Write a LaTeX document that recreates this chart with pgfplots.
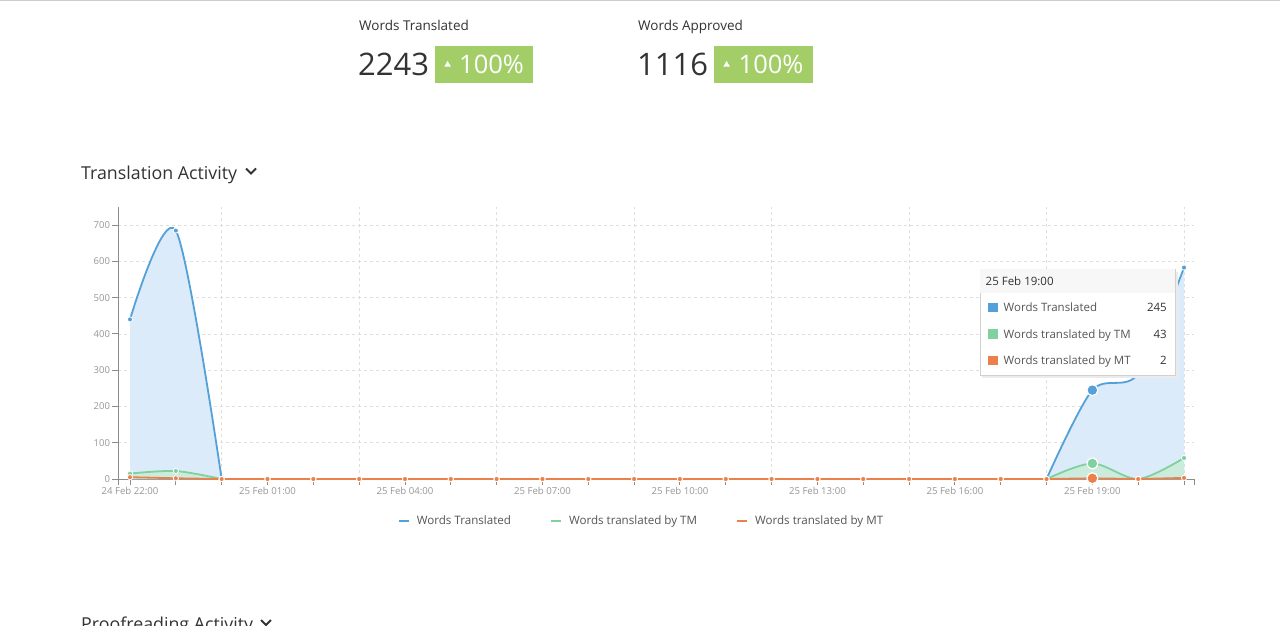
\documentclass[border=0pt]{standalone}
\usepackage{fontspec}
\setmainfont{Open Sans}
\usepackage{pgfplots}
\usepackage{pgfplotstable}
\pgfplotsset{compat=1.18}

\definecolor{wtblue}{RGB}{84,161,217}
\definecolor{wtfill}{RGB}{219,235,249}
\definecolor{tmgreen}{RGB}{128,208,160}
\definecolor{tmfill}{RGB}{200,236,214}
\definecolor{mtorange}{RGB}{235,128,74}
\definecolor{axgray}{RGB}{140,140,140}
\definecolor{gridgray}{RGB}{222,222,222}
\definecolor{ticktext}{RGB}{150,150,150}
\definecolor{legtext}{RGB}{85,85,85}
\definecolor{darktext}{RGB}{51,51,51}
\definecolor{okgreen}{RGB}{163,206,103}

\newcommand\fs[1]{\fontsize{#1}{#1}\selectfont}

% hourly values, 24 Feb 22:00 (h=0) to 25 Feb 21:00 (h=23)
\pgfplotstableread{
h  wt  tm  mt
0  440 15  5
1  685 22  2
2  0   0   0
3  0   0   0
4  0   0   0
5  0   0   0
6  0   0   0
7  0   0   0
8  0   0   0
9  0   0   0
10 0   0   0
11 0   0   0
12 0   0   0
13 0   0   0
14 0   0   0
15 0   0   0
16 0   0   0
17 0   0   0
18 0   0   0
19 0   0   0
20 0   0   0
21 245 43  2
22 290 0   0
23 583 58  3
}\activity

\begin{document}
\begin{tikzpicture}
\path[fill=white, use as bounding box] (0pt,0pt) rectangle (1280pt,-626pt);

\begin{scope}[x=1pt, y=-1pt]
  \fill[black!20] (0,0) rectangle (1280,1.5);
  % header figures
  \node[anchor=base west, inner sep=0pt, font=\fs{13.5}, text=darktext] at (359,30.5) {Words Translated};
  \node[anchor=base west, inner sep=0pt, font=\fs{31}, text=darktext] at (358,76) {2243};
  \fill[okgreen] (435,46) rectangle (533,83.5);
  \fill[white] (444.3,66.7) -- (451,66.7) -- (447.6,61) -- cycle;
  \node[anchor=base west, inner sep=0pt, font=\fs{25.5}, text=white] at (459,74) {100\%};

  \node[anchor=base west, inner sep=0pt, font=\fs{13.5}, text=darktext] at (638,30.5) {Words Approved};
  \node[anchor=base west, inner sep=0pt, font=\fs{31}, text=darktext] at (637,76) {1116};
  \fill[okgreen] (714,46) rectangle (812.5,83.5);
  \fill[white] (723.3,66.7) -- (730,66.7) -- (726.6,61) -- cycle;
  \node[anchor=base west, inner sep=0pt, font=\fs{25.5}, text=white] at (738.5,74) {100\%};

  % section titles
  \node[anchor=base west, inner sep=0pt, font=\fs{17.8}, text=darktext] at (81,179) {Translation Activity};
  \draw[darktext, line width=2pt] (246,168.5) -- (251,173.5) -- (256,168.5);
  \node[anchor=base west, inner sep=0pt, font=\fs{17.8}, text=darktext] at (81,630) {Proofreading Activity};
  \draw[darktext, line width=2pt] (261,620) -- (266,625) -- (271,620);
\end{scope}

\begin{axis}[
  at={(118pt,-479pt)}, anchor=south west,
  scale only axis, width=1076pt, height=272pt,
  xmin=-0.2619, xmax=23.218, ymin=0, ymax=750,
  clip=false,
  /pgf/number format/assume math mode=true,
  axis lines=left, axis line style={-, axgray, line width=1pt},
  tick align=outside, major tick length=6pt,
  tick style={axgray, line width=0.9pt},
  xtick={-0.2619,0,1,2,3,4,5,6,7,8,9,10,11,12,13,14,15,16,17,18,19,20,21,22,23,23.218},
  xticklabels={{},24 Feb 22:00,{},{},25 Feb 01:00,{},{},25 Feb 04:00,{},{},25 Feb 07:00,{},{},25 Feb 10:00,{},{},25 Feb 13:00,{},{},25 Feb 16:00,{},{},25 Feb 19:00,{},{},{}},
  extra x ticks={2,5,8,11,14,17,20,23},
  extra x tick labels={},
  extra x tick style={xmajorgrids=true, major tick length=0pt},
  ytick={0,100,200,300,400,500,600,700},
  ymajorgrids=true,
  grid style={gridgray, dashed, line width=0.8pt},
  xticklabel style={font=\fs{9.6}, text=ticktext, yshift=1pt},
  yticklabel style={font=\fs{9.5}, text=ticktext, xshift=1.5pt},
  legend columns=3,
  legend image code/.code={\draw[#1] (0pt,0pt) -- (10pt,0pt);},
  legend style={at={(0.4856,-0.1544)}, anchor=center, draw=none, fill=none,
    font=\fs{11.6}, text=legtext,
    nodes={inner xsep=0pt},
    /tikz/every even column/.append style={column sep=39pt},
    /tikz/every odd column/.append style={column sep=7pt}},
]
\addlegendimage{wtblue, line width=2pt}
\addlegendentry{Words Translated}
\addlegendimage{tmgreen, line width=2pt}
\addlegendentry{Words translated by TM}
\addlegendimage{mtorange, line width=2pt}
\addlegendentry{Words translated by MT}

% Words Translated
\addplot[draw=none, fill=wtfill, smooth, restrict x to domain=0:2, forget plot] table[x=h, y=wt] {\activity} \closedcycle;
\addplot[draw=none, fill=wtfill, smooth, restrict x to domain=20:23, forget plot] table[x=h, y=wt] {\activity} \closedcycle;
\addplot[wtblue, line width=1.8pt, smooth, restrict x to domain=0:2, forget plot] table[x=h, y=wt] {\activity};
\addplot[wtblue, line width=1.8pt, restrict x to domain=2:20, forget plot] table[x=h, y=wt] {\activity};
\addplot[wtblue, line width=1.8pt, smooth, restrict x to domain=20:23, forget plot] table[x=h, y=wt] {\activity};
\addplot[only marks, mark=*, mark size=2.6pt, mark options={fill=wtblue, draw=white, line width=0.8pt}, forget plot] table[x=h, y=wt] {\activity};

% Words translated by TM
\addplot[draw=none, fill=tmfill, fill opacity=0.8, smooth, restrict x to domain=0:2, forget plot] table[x=h, y=tm] {\activity} \closedcycle;
\addplot[draw=none, fill=tmfill, fill opacity=0.8, smooth, restrict x to domain=20:23, forget plot] table[x=h, y=tm] {\activity} \closedcycle;
\addplot[tmgreen, line width=1.8pt, smooth, restrict x to domain=0:2, forget plot] table[x=h, y=tm] {\activity};
\addplot[tmgreen, line width=1.8pt, restrict x to domain=2:20, forget plot] table[x=h, y=tm] {\activity};
\addplot[tmgreen, line width=1.8pt, smooth, restrict x to domain=20:23, forget plot] table[x=h, y=tm] {\activity};
\addplot[only marks, mark=*, mark size=2.6pt, mark options={fill=tmgreen, draw=white, line width=0.8pt}, forget plot] table[x=h, y=tm] {\activity};

% Words translated by MT
\addplot[mtorange, line width=1.8pt, forget plot] table[x=h, y=mt] {\activity};
\addplot[only marks, mark=*, mark size=2.6pt, mark options={fill=mtorange, draw=white, line width=0.8pt}, forget plot] table[x=h, y=mt] {\activity};

% hovered point, 25 Feb 19:00
\addplot[only marks, mark=*, mark size=5.5pt, mark options={fill=wtblue, draw=white, line width=1.2pt}, forget plot] coordinates {(21,245)};
\addplot[only marks, mark=*, mark size=5.5pt, mark options={fill=tmgreen, draw=white, line width=1.2pt}, forget plot] coordinates {(21,43)};
\addplot[only marks, mark=*, mark size=5.5pt, mark options={fill=mtorange, draw=white, line width=1.2pt}, forget plot] coordinates {(21,2)};
\end{axis}

% tooltip
\begin{scope}[x=1pt, y=-1pt]
  \fill[black!8] (982,271.5) rectangle (1177.5,377.5);
  \filldraw[fill=white, draw=black!18, line width=0.8pt] (980,269) rectangle (1175,375);
  \fill[black!3] (980.4,269.4) rectangle (1174.6,293);
  \node[anchor=base west, inner sep=0pt, font=\fs{11.5}, text=darktext] at (985.5,285.5) {25 Feb 19:00};
  \fill[wtblue] (988,302.5) rectangle (997.5,312);
  \node[anchor=base west, inner sep=0pt, font=\fs{11.5}, text=legtext] at (1003.5,311.5) {Words Translated};
  \node[anchor=base east, inner sep=0pt, font=\fs{11.5}, text=darktext] at (1167,311.5) {245};
  \fill[tmgreen] (988,329) rectangle (997.5,338.5);
  \node[anchor=base west, inner sep=0pt, font=\fs{11.5}, text=legtext] at (1003.5,338) {Words translated by TM};
  \node[anchor=base east, inner sep=0pt, font=\fs{11.5}, text=darktext] at (1167,338) {43};
  \fill[mtorange] (988,355.5) rectangle (997.5,365);
  \node[anchor=base west, inner sep=0pt, font=\fs{11.5}, text=legtext] at (1003.5,364.5) {Words translated by MT};
  \node[anchor=base east, inner sep=0pt, font=\fs{11.5}, text=darktext] at (1167,364.5) {2};
\end{scope}
\end{tikzpicture}
\end{document}
